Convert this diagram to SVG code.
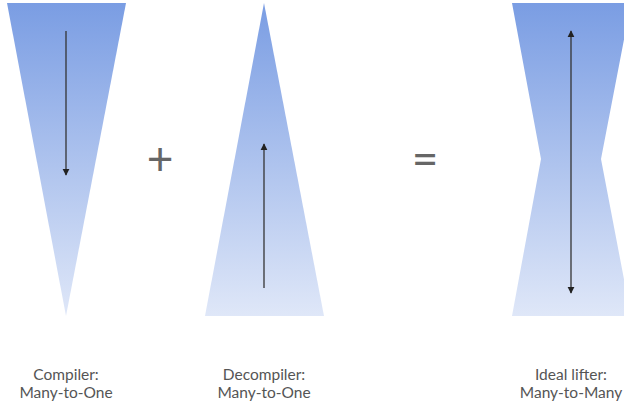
<svg xmlns="http://www.w3.org/2000/svg" width="624" height="406" viewBox="0 0 624 406">
<defs>
<linearGradient id="g" gradientUnits="userSpaceOnUse" x1="0" y1="3" x2="0" y2="316">
<stop offset="0" stop-color="#7a9de3"/>
<stop offset="1" stop-color="#dfe7f8"/>
</linearGradient>
<marker id="ah" viewBox="0 0 10 10" refX="9" refY="5" markerWidth="7" markerHeight="8" markerUnits="userSpaceOnUse" orient="auto-start-reverse">
<path d="M0,0 L10,5 L0,10 z" fill="#222"/>
</marker>
<style>
.shape{fill:url(#g);}
.arr{stroke:#333;stroke-width:1.3;fill:none;}
.lbl{font-family:Lato,"Open Sans","Liberation Sans",sans-serif;font-size:15.5px;fill:#555;text-anchor:middle;}
.op{font-family:Lato,"Open Sans","Liberation Sans",sans-serif;fill:#666;text-anchor:middle;}
</style>
</defs>
<g id="compiler">
<polygon class="shape" points="7,3 126,3 66,316"/>
<text class="lbl" x="66" y="380">Compiler:</text>
<text class="lbl" x="66" y="398">Many-to-One</text>
</g>
<g id="decompiler">
<polygon class="shape" points="264,3 324,316 205,316"/>
<text class="lbl" x="264" y="380">Decompiler:</text>
<text class="lbl" x="264" y="398">Many-to-One</text>
</g>
<g id="lifter">
<polygon class="shape" points="512,3 631,3 601,159 631,316 512,316 541,159"/>
<text class="lbl" x="571" y="380">Ideal lifter:</text>
<text class="lbl" x="571" y="398">Many-to-Many</text>
</g>
<g id="operators">
<text class="op" x="160" y="175" font-size="46">+</text>
<text class="op" x="425" y="175" font-size="46">=</text>
</g>
<g id="connectors">
<line class="arr" x1="66" y1="31" x2="66" y2="175" marker-end="url(#ah)"/>
<line class="arr" x1="264" y1="288" x2="264" y2="144" marker-end="url(#ah)"/>
<line class="arr" x1="571" y1="31" x2="571" y2="293" marker-start="url(#ah)" marker-end="url(#ah)"/>
</g>
</svg>
